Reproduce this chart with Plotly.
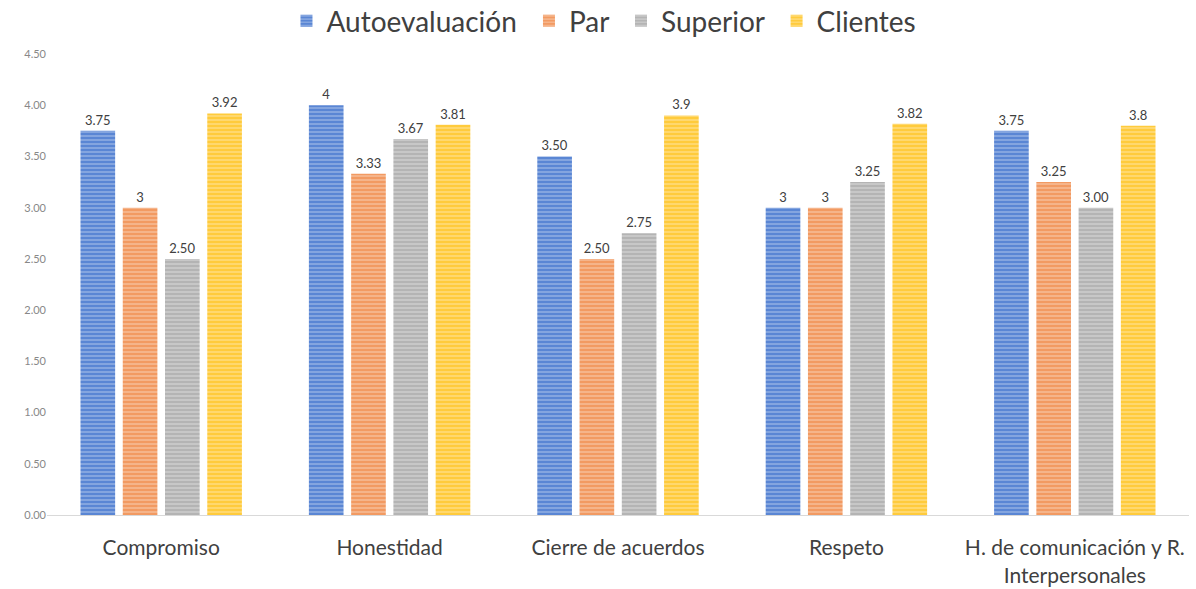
import plotly.graph_objects as go

categories = ["Compromiso", "Honestidad", "Cierre de acuerdos", "Respeto",
              "H. de comunicación y R.<br>Interpersonales"]
series_names = ["Autoevaluación", "Par", "Superior", "Clientes"]
autoevaluacion = [3.75, 4, 3.50, 3, 3.75]
par = [3, 3.33, 2.50, 3, 3.25]
superior = [2.50, 3.67, 2.75, 3.25, 3.00]
clientes = [3.92, 3.81, 3.9, 3.82, 3.8]
label_auto = ["3.75", "4", "3.50", "3", "3.75"]
label_par = ["3", "3.33", "2.50", "3", "3.25"]
label_sup = ["2.50", "3.67", "2.75", "3.25", "3.00"]
label_cli = ["3.92", "3.81", "3.9", "3.82", "3.8"]
y_ticks = [0, 0.5, 1, 1.5, 2, 2.5, 3, 3.5, 4, 4.5]

colors = ["#5A86D4", "#F29A62", "#B4B4B4", "#FFCB3C"]
values = [autoevaluacion, par, superior, clientes]
labels = [label_auto, label_par, label_sup, label_cli]

pad = "\u00a0"
fig = go.Figure()
for i, (name, vals, labs, col) in enumerate(zip(series_names, values, labels, colors)):
    fig.add_trace(go.Bar(
        name=name + (pad if i < len(series_names) - 1 else ""),
        x=categories, y=vals, text=labs,
        textposition="outside", cliponaxis=False,
        textfont=dict(size=13, color="#404040"),
        marker=dict(color=col, line=dict(width=0),
                    pattern=dict(shape="-", fgcolor="rgba(255,255,255,0.85)",
                                 size=4, solidity=0.3)),
    ))

fig.update_layout(
    width=1196, height=589,
    barmode="group", bargap=0.26, bargroupgap=0.18,
    plot_bgcolor="white", paper_bgcolor="white",
    font=dict(family="Lato, Open Sans, sans-serif", color="#404040"),
    margin=dict(l=47, r=7, t=54, b=74, autoexpand=False),
    legend=dict(orientation="h", xref="container", x=0.505, xanchor="center",
                yref="container", y=1 - 21 / 589, yanchor="middle",
                font=dict(size=28, color="#404040"), itemwidth=30,
                traceorder="normal"),
)
fig.update_yaxes(range=[0, 4.5], tickvals=y_ticks, tickformat=".2f",
                 showgrid=False, zeroline=False, showline=False, automargin=False,
                 tickfont=dict(size=11, color="#888888"))
fig.update_xaxes(showline=True, linecolor="#D9D9D9", linewidth=1, automargin=False,
                 tickfont=dict(size=21, color="#404040"), ticks="",
                 ticklabelstandoff=14)

fig.write_html("out.html", config={"displayModeBar": False},
               post_script="document.body.style.margin='0';document.body.style.padding='0';")
